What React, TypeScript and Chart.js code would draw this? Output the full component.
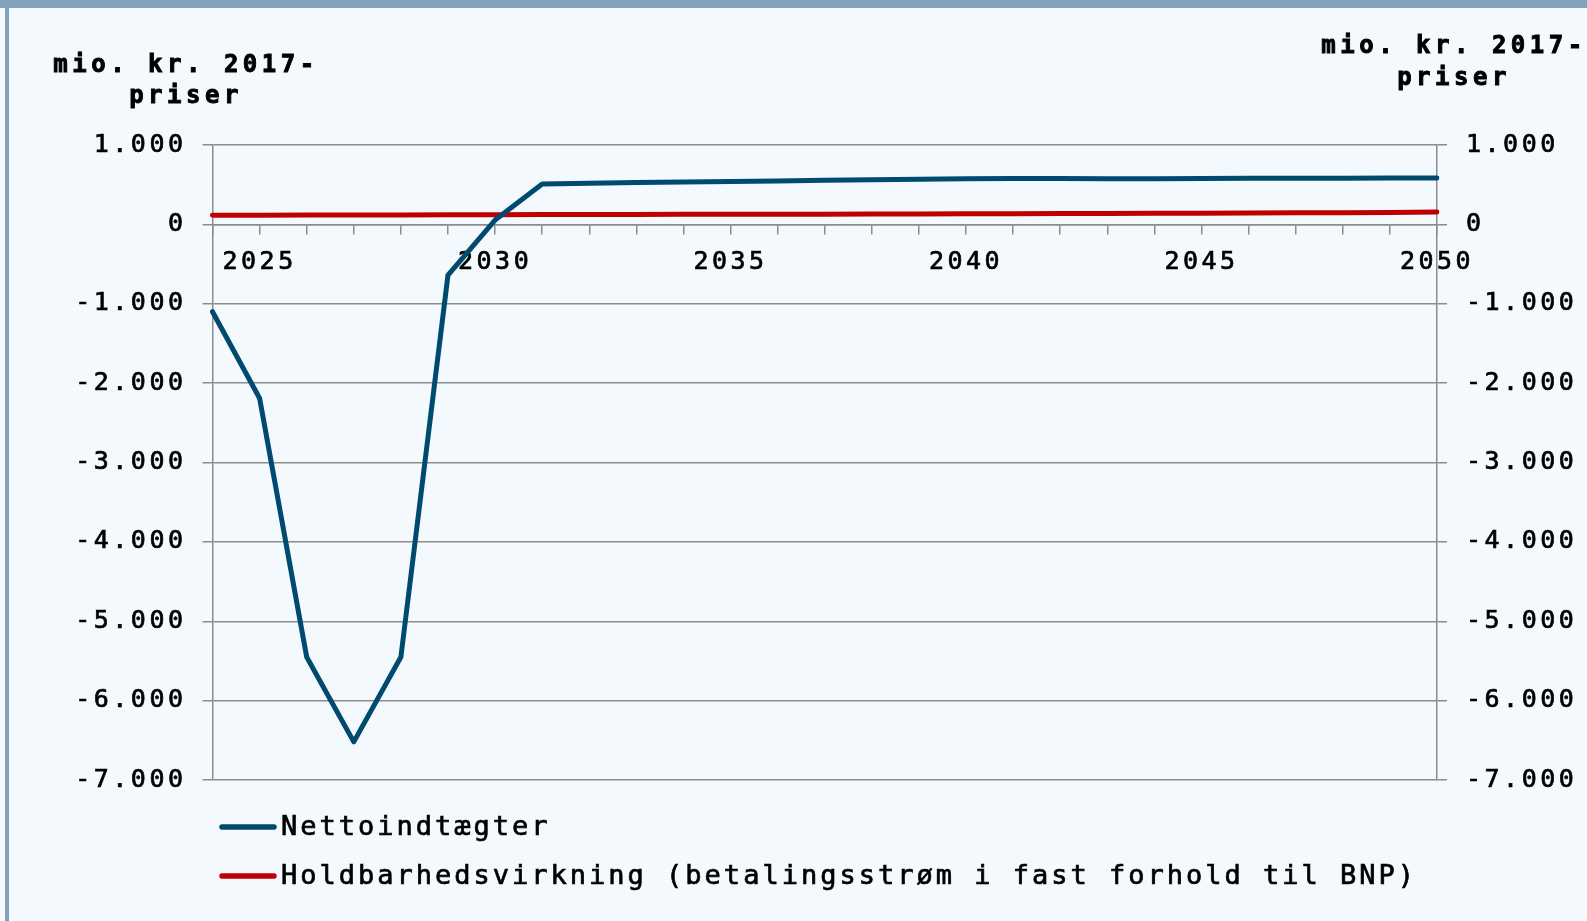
import React, { useEffect, useRef } from 'react';
import { Chart, registerables } from 'chart.js';

Chart.register(...registerables);

const years = [
  '2024', '2025', '2026', '2027', '2028', '2029', '2030', '2031', '2032', '2033',
  '2034', '2035', '2036', '2037', '2038', '2039', '2040', '2041', '2042', '2043',
  '2044', '2045', '2046', '2047', '2048', '2049', '2050',
];

const nettoindtaegter = [
  -1100, -2190, -5450, -6520, -5450, -640, 55, 510, 518, 526,
  534, 541, 548, 556, 563, 570, 576, 577, 577, 576,
  575, 579, 580, 581, 582, 583, 585,
];

const holdbarhedsvirkning = [
  115, 116, 117, 118, 119, 120, 121, 123, 124, 125,
  126, 127, 128, 129, 130, 132, 133, 134, 136, 137,
  139, 141, 143, 145, 148, 151, 155,
];

const seriesLabels = [
  'Nettoindtægter',
  'Holdbarhedsvirkning (betalingsstrøm i fast forhold til BNP)',
];
const seriesColors = ['#00496F', '#C00000'];
const axisTitle = ['mio. kr. 2017-', 'priser'];

const W = 1587;
const H = 921;
const BG = '#F4F9FE';
const FRAME = '#80A3BA';
const GRID = '#8C8C8C';
const FONT = 'DejaVu Sans Mono';

const fmt = (v: number) => {
  const s = Math.abs(v).toString().replace(/\B(?=(\d{3})+(?!\d))/g, '.');
  return (v < 0 ? '-' : '') + s;
};

const decor = {
  id: 'decor',
  beforeDraw(chart: any) {
    const ctx = chart.ctx;
    ctx.save();
    ctx.fillStyle = BG;
    ctx.fillRect(0, 0, W, H);
    ctx.fillStyle = FRAME;
    ctx.fillRect(0, 0, W, 8);
    ctx.fillRect(5, 0, 4, H);
    ctx.restore();
    ctx.letterSpacing = '3.5px';
  },
  afterDraw(chart: any) {
    const ctx = chart.ctx;
    const area = chart.chartArea;
    ctx.save();
    // axis titles
    ctx.fillStyle = '#000';
    ctx.strokeStyle = '#000';
    ctx.lineWidth = 0.9;
    ctx.font = `bold 24px "${FONT}"`;
    ctx.letterSpacing = '4.5px';
    ctx.textAlign = 'center';
    ctx.textBaseline = 'alphabetic';
    const titleAt = (t: string, x: number, y: number) => {
      ctx.fillText(t, x, y);
      ctx.strokeText(t, x, y);
    };
    titleAt(axisTitle[0], 186, 72);
    titleAt(axisTitle[1], 186, 103);
    titleAt(axisTitle[0], 1454, 53);
    titleAt(axisTitle[1], 1454, 85);
    // legend
    ctx.font = `27px "${FONT}"`;
    ctx.letterSpacing = '3px';
    ctx.textAlign = 'left';
    ctx.textBaseline = 'middle';
    chart.data.datasets.forEach((ds: any, i: number) => {
      const y = area.bottom + 47 + i * 49;
      ctx.strokeStyle = ds.borderColor;
      ctx.lineWidth = 5.5;
      ctx.lineCap = 'round';
      ctx.beginPath();
      ctx.moveTo(222, y);
      ctx.lineTo(274, y);
      ctx.stroke();
      ctx.fillStyle = '#000';
      ctx.strokeStyle = '#000';
      ctx.lineWidth = 0.7;
      ctx.fillText(ds.label, 281, y + 1);
      ctx.strokeText(ds.label, 281, y + 1);
    });
    ctx.restore();
  },
};

export default function App() {
  const ref = useRef<HTMLCanvasElement>(null);

  useEffect(() => {
    if (!ref.current) return;
    const tickFont = { family: FONT, size: 25 };
    const chart = new Chart(ref.current, {
      type: 'line',
      data: {
        labels: years,
        datasets: [
          {
            label: seriesLabels[0],
            data: nettoindtaegter,
            borderColor: seriesColors[0],
            backgroundColor: seriesColors[0],
            borderWidth: 5,
            pointRadius: 0,
            tension: 0,
            borderCapStyle: 'round',
            borderJoinStyle: 'round',
            yAxisID: 'y',
            order: 1,
          },
          {
            label: seriesLabels[1],
            data: holdbarhedsvirkning,
            borderColor: seriesColors[1],
            backgroundColor: seriesColors[1],
            borderWidth: 5,
            pointRadius: 0,
            tension: 0,
            borderCapStyle: 'round',
            yAxisID: 'y',
            order: 2,
          },
        ],
      },
      options: {
        responsive: false,
        animation: false,
        events: [],
        layout: { padding: { left: 0, right: 0, top: 145, bottom: 141 } },
        plugins: {
          legend: { display: false },
          tooltip: { enabled: false },
          title: { display: false },
        },
        scales: {
          x: {
            type: 'category',
            position: { y: 0 } as any,
            offset: false,
            grid: {
              display: true,
              drawOnChartArea: false,
              drawTicks: true,
              tickLength: 9,
              color: GRID,
              lineWidth: 1.5,
            },
            border: { display: true, color: GRID, width: 1.5 },
            ticks: {
              autoSkip: false,
              maxRotation: 0,
              minRotation: 0,
              padding: 14,
              color: '#000',
              textStrokeColor: '#000',
              textStrokeWidth: 0.7,
              font: tickFont,
              callback: function (this: any, value: any) {
                const lab = this.getLabelForValue(value);
                return Number(lab) % 5 === 0 ? lab : '';
              },
            },
            afterFit: (s: any) => {
              s.height = 0;
            },
          },
          y: {
            position: 'left',
            min: -7000,
            max: 1000,
            grid: {
              color: GRID,
              lineWidth: 1.5,
              tickLength: 10,
              drawTicks: true,
            },
            border: { display: true, color: GRID, width: 1.5 },
            ticks: {
              stepSize: 1000,
              padding: 16,
              color: '#000',
              textStrokeColor: '#000',
              textStrokeWidth: 0.7,
              font: tickFont,
              callback: (v: any) => fmt(Number(v)),
            },
            afterFit: (s: any) => {
              s.width = 212.5;
            },
          },
          y1: {
            position: 'right',
            min: -7000,
            max: 1000,
            grid: {
              drawOnChartArea: false,
              color: GRID,
              lineWidth: 1.5,
              tickLength: 10,
              drawTicks: true,
            },
            border: { display: true, color: GRID, width: 1.5 },
            ticks: {
              stepSize: 1000,
              padding: 19,
              color: '#000',
              textStrokeColor: '#000',
              textStrokeWidth: 0.7,
              font: tickFont,
              callback: (v: any) => fmt(Number(v)),
            },
            afterFit: (s: any) => {
              s.width = W - 1437;
            },
          },
        },
      },
      plugins: [decor],
    });
    return () => chart.destroy();
  }, []);

  return (
    <div style={{ position: 'fixed', left: 0, top: 0, width: W, height: H, background: BG }}>
      <canvas ref={ref} width={W} height={H} style={{ display: 'block', width: W, height: H }} />
    </div>
  );
}
